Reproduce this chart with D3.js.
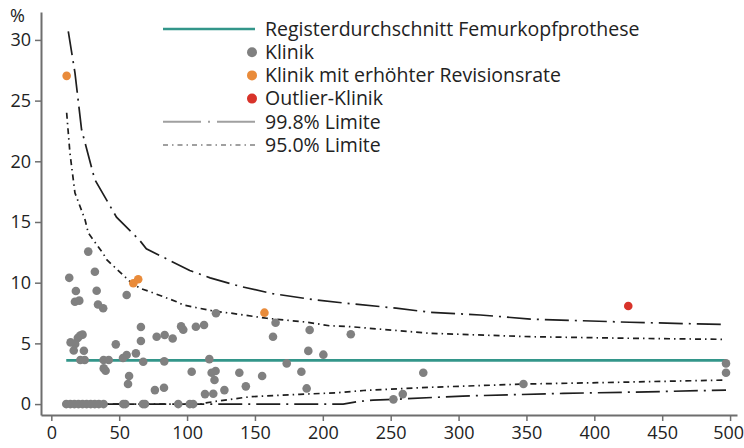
<!DOCTYPE html>
<html>
<head>
<meta charset="utf-8">
<script src="https://cdn.jsdelivr.net/npm/d3@7"></script>
<style>
  body { margin: 0; background: #fff; }
  svg { display: block; font-family: "Open Sans", sans-serif; }
</style>
</head>
<body>
<svg></svg>
<script>
// Fallzahl (n) und Revisionsrate (%) je Klinik
const clinics = [
    [11, 0], [14, 0], [17, 0], [20, 0], [23, 0], [26, 0], [29, 0], [32, 0], [35, 0], [38.5, 0],
    [53, 0], [54.5, 0], [67.5, 0], [69, 0], [93.5, 0], [102, 0], [104.5, 0],
    [13.2, 10.4], [27.2, 12.56], [32.1, 10.9], [18.1, 9.32], [33.4, 9.34], [55.5, 8.99],
    [17.4, 8.43], [20.6, 8.52], [34.4, 8.2], [38.2, 7.89], [121.3, 7.48],
    [66, 6.35], [95.6, 6.4], [97.2, 6.13], [106.5, 6.37], [112.5, 6.51],
    [14.2, 5.08], [17.6, 4.95], [19.5, 5.45], [21.3, 5.65], [23, 5.72], [16.5, 4.42], [24, 4.39],
    [21.4, 3.63], [24.6, 3.63], [38.5, 3.63], [42.3, 3.63], [38.6, 2.94], [40, 2.75],
    [47.5, 4.92], [52.8, 3.8], [55.5, 4.04], [57.3, 2.31], [56.5, 1.65], [62.3, 4.18],
    [66, 5.2], [67.7, 3.49], [77.6, 5.55], [83.5, 5.69], [89.4, 5.4], [83.2, 3.52],
    [76.3, 1.15], [83, 1.34],
    [103.4, 2.66], [116.4, 3.7], [118.1, 2.58], [121, 2.72], [120.2, 1.98], [113.2, 0.82],
    [119.3, 0.85], [127.5, 1.15], [138.5, 2.58], [143.3, 1.46],
    [155.3, 2.31], [163.3, 5.55], [165.2, 6.7], [173.4, 3.35], [184.2, 2.66], [188.1, 1.29],
    [189.3, 4.38], [190.3, 6.1], [200.4, 4.07], [220.6, 5.75],
    [252, 0.39], [258.9, 0.82], [274, 2.58], [347.8, 1.65], [497, 3.35], [497, 2.58]
];
const clinicsElevated = [[11.3, 27.04], [60.4, 9.95], [64, 10.28], [157, 7.53]];
const clinicsOutlier = [[425, 8.08]];

const registerMean = 3.6;
const meanRange = [11, 497];

const upper998 = [
    [12.5, 30.7], [17.4, 27.3], [22.3, 22.6], [32, 18.5], [48, 15.4], [65, 13.5], [70, 12.8],
    [102, 11.0], [117, 10.4], [139, 9.7], [163, 9.1], [193, 8.6], [218, 8.3], [254, 7.9],
    [279, 7.56], [316, 7.34], [353, 7.0], [390, 6.87], [426, 6.74], [497, 6.55]
];
const upper950 = [
    [11.3, 24.0], [13.7, 20.7], [17.4, 17.4], [24.8, 15.2], [27.2, 14.1], [38.2, 12.4],
    [40.8, 11.9], [57.9, 10.1], [65.3, 9.54], [72.7, 9.26], [92.3, 8.43], [97.2, 8.16],
    [121.8, 7.61], [131.6, 7.5], [158.7, 7.07], [188, 6.75], [205, 6.45], [220, 6.38],
    [279, 5.83], [353, 5.55], [426, 5.42], [497, 5.33]
];
const lower950 = [
    [11, 0], [110, 0], [114, 0.1], [119, 0.19], [146, 0.6], [183, 0.8], [210, 0.93],
    [230, 1.12], [247, 1.21], [279, 1.38], [348, 1.65], [402, 1.76], [497, 1.98]
];
const lower998 = [
    [11, 0], [215, 0], [225, 0.19], [237, 0.33], [252, 0.39], [303, 0.66], [377, 0.88],
    [439, 1.01], [497, 1.15]
];

const xTicks = [0, 50, 100, 150, 200, 250, 300, 350, 400, 450, 500];
const yTicks = [0, 5, 10, 15, 20, 25, 30];

const legendLabels = [
    "Registerdurchschnitt Femurkopfprothese",
    "Klinik",
    "Klinik mit erhöhter Revisionsrate",
    "Outlier-Klinik",
    "99.8% Limite",
    "95.0% Limite"
];

const colors = { mean: "#33968a", clinic: "#808080", elevated: "#e98b3a", outlier: "#d8332a", limit: "#1e1e1e", axis: "#6e6e6e", text: "#222" };
const dash998 = "24,6,2,6";
const dash950 = "6,4,1.5,4";

document.addEventListener("DOMContentLoaded", function() {
    drawChart();
});

function drawChart() {
    const svgWidth = 744, svgHeight = 448;

    const svg = d3.select("svg")
        .attr("width", svgWidth)
        .attr("height", svgHeight);

    const x = d3.scaleLinear()
        .domain([-7.6, 505.1])
        .range([41, 737]);

    const y = d3.scaleLinear()
        .domain([-0.9, 32.3])
        .range([415, 12]);

    // axes
    const gx = svg.append("g")
        .attr("transform", "translate(0,415)")
        .call(d3.axisBottom(x).tickValues(xTicks).tickSize(6).tickSizeOuter(0).tickPadding(5));

    const gy = svg.append("g")
        .attr("transform", "translate(41,0)")
        .call(d3.axisLeft(y).tickValues(yTicks).tickSize(6).tickSizeOuter(0).tickPadding(4));

    [gx, gy].forEach(g => {
        g.select(".domain").attr("stroke", colors.axis).attr("stroke-width", 2);
        g.selectAll(".tick line").attr("stroke", colors.axis).attr("stroke-width", 1.5);
        g.selectAll(".tick text")
            .attr("fill", colors.text)
            .style("font-size", "18px")
            .style("font-family", "'Open Sans', sans-serif");
    });

    // last label sits against the right edge
    gx.selectAll(".tick text").filter(d => d === 500).attr("dx", "-2");

    svg.append("text")
        .attr("x", 10)
        .attr("y", 22)
        .attr("fill", colors.text)
        .style("font-size", "18px")
        .text("%");

    const line = d3.line()
        .x(d => x(d[0]))
        .y(d => y(d[1]));

    // control limits
    [[upper998, dash998], [lower998, dash998], [upper950, dash950], [lower950, dash950]].forEach(([data, dash]) => {
        svg.append("path")
            .datum(data)
            .attr("fill", "none")
            .attr("stroke", colors.limit)
            .attr("stroke-width", 1.7)
            .attr("stroke-dasharray", dash)
            .attr("d", line);
    });

    // register mean
    svg.append("line")
        .attr("x1", x(meanRange[0]))
        .attr("x2", x(meanRange[1]))
        .attr("y1", y(registerMean))
        .attr("y2", y(registerMean))
        .attr("stroke", colors.mean)
        .attr("stroke-width", 2.6);

    // clinics
    [[clinics, colors.clinic], [clinicsElevated, colors.elevated], [clinicsOutlier, colors.outlier]].forEach(([data, color]) => {
        svg.append("g")
            .selectAll("circle")
            .data(data)
            .join("circle")
            .attr("cx", d => x(d[0]))
            .attr("cy", d => y(d[1]))
            .attr("r", 4.3)
            .attr("fill", color);
    });

    // legend
    const legend = svg.append("g");
    const rowY = i => 29 + i * 23.2;

    legendLabels.forEach((label, i) => {
        legend.append("text")
            .attr("x", 265)
            .attr("y", rowY(i))
            .attr("dy", "0.35em")
            .attr("fill", colors.text)
            .style("font-size", "19.5px")
            .text(label);
    });

    legend.append("line")
        .attr("x1", 163).attr("x2", 255)
        .attr("y1", rowY(0)).attr("y2", rowY(0))
        .attr("stroke", colors.mean)
        .attr("stroke-width", 2.6);

    [colors.clinic, colors.elevated, colors.outlier].forEach((c, i) => {
        legend.append("circle")
            .attr("cx", 252)
            .attr("cy", rowY(i + 1))
            .attr("r", 5)
            .attr("fill", c);
    });

    [["38,7,2,7", 4], ["5,4,1.5,4", 5]].forEach(([dash, i]) => {
        legend.append("line")
            .attr("x1", 163).attr("x2", 255)
            .attr("y1", rowY(i)).attr("y2", rowY(i))
            .attr("stroke", "#a0a0a0")
            .attr("stroke-width", 2)
            .attr("stroke-dasharray", dash);
    });
}
</script>
</body>
</html>
